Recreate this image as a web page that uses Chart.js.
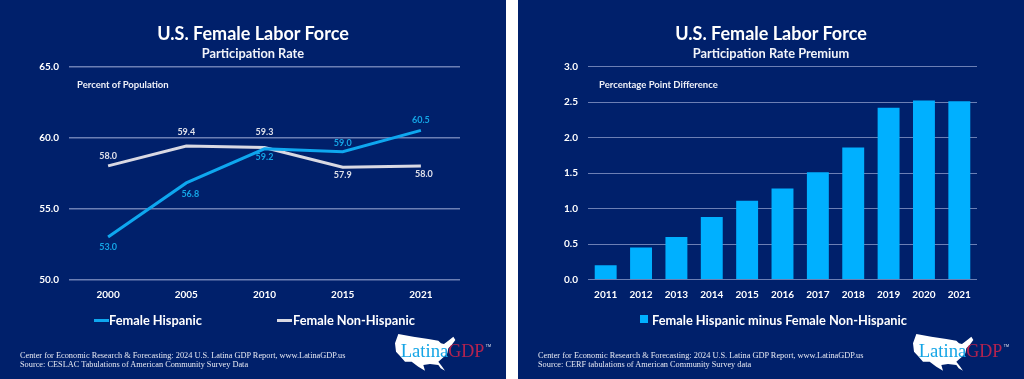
<!DOCTYPE html>
<html>
<head>
<meta charset="utf-8">
<script src="https://cdn.jsdelivr.net/npm/chart.js@4"></script>
<style>
html, body { margin: 0; padding: 0; background: #fff; width: 1024px; height: 379px; overflow: hidden; }
.panel { position: absolute; top: 0; width: 506px; height: 379px; background: #00206b; overflow: hidden; font-family: Lato, sans-serif; color: #fff; }
#leftPanel { left: 0; }
#rightPanel { left: 518px; }
.panel canvas { position: absolute; left: 0; top: 0; }
.panel div, .panel svg { position: absolute; white-space: nowrap; }
.title { left: 0; width: 506px; text-align: center; top: 20px; font-size: 18px; font-weight: 700; line-height: 26px; }
.subtitle { left: 0; width: 506px; text-align: center; top: 44px; font-size: 12.8px; font-weight: 700; line-height: 18px; color: #f2f4fa; }
.unit { top: 78px; font-size: 9.5px; font-weight: 700; line-height: 13px; color: #eef0f8; }
.legend { top: 310px; font-size: 12.8px; font-weight: 700; line-height: 20px; }
.swatch { height: 3px; width: 15px; top: 319px; }
.square { width: 8px; height: 8px; top: 315px; }
.foot { left: 20px; font-family: "Liberation Serif", serif; font-size: 8.3px; line-height: 10px; color: #e6e9f3; }
</style>
</head>
<body>
<div class="panel" id="leftPanel">
  <canvas id="lineChart" width="506" height="379"></canvas>
  <div class="title">U.S. Female Labor Force</div>
  <div class="subtitle">Participation Rate</div>
  <div class="unit" style="left:77px">Percent of Population</div>
  <div class="swatch" style="left:94px;background:#0ea7ef"></div>
  <div class="legend" style="left:109px">Female Hispanic</div>
  <div class="swatch" style="left:277px;background:#d9d9e3"></div>
  <div class="legend" style="left:293px">Female Non-Hispanic</div>
  <div class="foot" style="top:351px">Center for Economic Research &amp; Forecasting: 2024 U.S. Latina GDP Report, www.LatinaGDP.us</div>
  <div class="foot" style="top:360px">Source: CESLAC Tabulations of American Community Survey Data</div>
  <svg class="logo" style="left:370px;top:320px" width="136" height="59" viewBox="0 0 408 177">
    <polygon fill="#fff" points="85,42 130,50 175,57 205,62 213,70 222,72 235,62 250,50 256,60 245,75 235,85 232,100 222,110 205,125 215,138 225,152 212,145 205,135 180,132 160,135 165,152 145,140 125,125 105,125 90,108 78,95 75,70"/>
    <text x="92" y="112" font-family="Liberation Serif" font-size="56" fill="#14a5e6">Latina</text>
    <text x="235" y="112" font-family="Liberation Serif" font-size="54" fill="#b5234f">GDP</text>
    <text x="347" y="80" font-family="Liberation Sans" font-size="11" fill="#e6e9f3">TM</text>
  </svg>
</div>
<div class="panel" id="rightPanel">
  <canvas id="barChart" width="506" height="379"></canvas>
  <div class="title">U.S. Female Labor Force</div>
  <div class="subtitle">Participation Rate Premium</div>
  <div class="unit" style="left:81px">Percentage Point Difference</div>
  <div class="square" style="left:122px;background:#00b0ff"></div>
  <div class="legend" style="left:134px">Female Hispanic minus Female Non-Hispanic</div>
  <div class="foot" style="top:351px">Center for Economic Research &amp; Forecasting: 2024 U.S. Latina GDP Report, www.LatinaGDP.us</div>
  <div class="foot" style="top:360px">Source: CERF tabulations of American Community Survey data</div>
  <svg class="logo" style="left:370px;top:320px" width="136" height="59" viewBox="0 0 408 177">
    <polygon fill="#fff" points="85,42 130,50 175,57 205,62 213,70 222,72 235,62 250,50 256,60 245,75 235,85 232,100 222,110 205,125 215,138 225,152 212,145 205,135 180,132 160,135 165,152 145,140 125,125 105,125 90,108 78,95 75,70"/>
    <text x="92" y="112" font-family="Liberation Serif" font-size="56" fill="#14a5e6">Latina</text>
    <text x="235" y="112" font-family="Liberation Serif" font-size="54" fill="#b5234f">GDP</text>
    <text x="347" y="80" font-family="Liberation Sans" font-size="11" fill="#e6e9f3">TM</text>
  </svg>
</div>
<script>
var lineYears = ["2000", "2005", "2010", "2015", "2021"];
var femaleHispanic = [53.0, 56.8, 59.2, 59.0, 60.5];
var femaleNonHispanic = [58.0, 59.4, 59.3, 57.9, 58.0];

var barYears = ["2011", "2012", "2013", "2014", "2015", "2016", "2017", "2018", "2019", "2020", "2021"];
var premium = [0.2, 0.45, 0.6, 0.88, 1.11, 1.28, 1.51, 1.86, 2.42, 2.52, 2.51];

var BLUE = "#0ea7ef", GREY = "#d9d9e3", GRID = "#6c7fb4";

// value labels next to each point, offsets set per dataset
var pointLabels = {
    id: "pointLabels",
    afterDatasetsDraw: function(chart) {
        var ctx = chart.ctx;
        ctx.save();
        ctx.font = "700 9px Lato";
        ctx.textAlign = "center";
        ctx.textBaseline = "middle";
        chart.data.datasets.forEach(function(ds, i) {
            ctx.fillStyle = ds.labelColor;
            chart.getDatasetMeta(i).data.forEach(function(pt, j) {
                ctx.fillText(ds.data[j].toFixed(1), pt.x + ds.labelDx[j], pt.y + ds.labelDy[j]);
            });
        });
        ctx.restore();
    }
};

function axisOptions(min, max, step, left, tickFont) {
    return {
        x: {
            offset: true,
            grid: { display: false },
            border: { display: false },
            ticks: { color: "#fff", font: tickFont, padding: 1, maxRotation: 0, autoSkip: false },
            afterFit: function(scale) { scale.height = 99.5; }
        },
        y: {
            min: min,
            max: max,
            grid: { color: GRID, lineWidth: 1.5, drawTicks: false },
            border: { display: false },
            ticks: {
                stepSize: step,
                color: "#fff",
                font: tickFont,
                padding: 10,
                callback: function(v) { return v.toFixed(1); }
            },
            afterFit: function(scale) { scale.width = left; }
        }
    };
}

new Chart(document.getElementById("lineChart"), {
    type: "line",
    data: {
        labels: lineYears,
        datasets: [
            {
                label: "Female Hispanic",
                data: femaleHispanic,
                borderColor: BLUE,
                borderWidth: 3,
                pointRadius: 0,
                tension: 0,
                labelColor: "#14a5e6",
                labelDx: [0, 4, 0, 0, 0],
                labelDy: [10, 11, 8, -9, -10]
            },
            {
                label: "Female Non-Hispanic",
                data: femaleNonHispanic,
                borderColor: GREY,
                borderWidth: 3,
                pointRadius: 0,
                tension: 0,
                labelColor: "#dfe1ea",
                labelDx: [0, 0, 0, 0, 3],
                labelDy: [-10, -14, -15, 8, 8]
            }
        ]
    },
    options: {
        responsive: false,
        animation: false,
        layout: { padding: { top: 66.5, right: 46, bottom: 0, left: 0 } },
        plugins: { legend: { display: false }, tooltip: { enabled: false } },
        scales: axisOptions(50, 65, 5, 69, { family: "Lato", size: 10, weight: "700" })
    },
    plugins: [pointLabels]
});

var barScales = axisOptions(0, 3, 0.5, 70, { family: "Lato", size: 10, weight: "700" });
barScales.y.grid.lineWidth = 1;

new Chart(document.getElementById("barChart"), {
    type: "bar",
    data: {
        labels: barYears,
        datasets: [{
            label: "Female Hispanic minus Female Non-Hispanic",
            data: premium,
            backgroundColor: "#00b0ff",
            barPercentage: 0.62,
            categoryPercentage: 1
        }]
    },
    options: {
        responsive: false,
        animation: false,
        layout: { padding: { top: 66.5, right: 47, bottom: 0, left: 0 } },
        plugins: { legend: { display: false }, tooltip: { enabled: false } },
        scales: barScales
    }
});
</script>
</body>
</html>
